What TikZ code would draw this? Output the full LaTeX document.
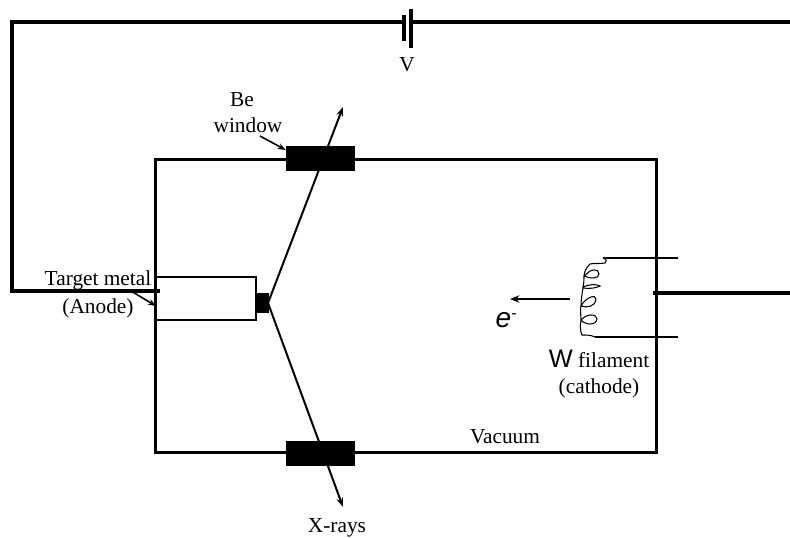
\documentclass[tikz,border=0pt]{standalone}
\usepackage{fontspec}
\setmainfont{Liberation Serif}
\newfontfamily\labelsans{Liberation Sans}
\usetikzlibrary{arrows.meta, positioning}

\begin{document}
\begin{tikzpicture}[
  x=0.75pt, y=-0.75pt,
  wall/.style={draw, rectangle, line width=2.25pt, minimum width=375.75pt, minimum height=219.75pt, inner sep=0pt},
  window/.style={fill=black, rectangle, minimum width=51.75pt, minimum height=18.75pt, inner sep=0pt},
  plate/.style={fill=black, rectangle, minimum width=3pt, inner sep=0pt},
  lbl/.style={font=\fontsize{16}{18}\selectfont, inner sep=0pt, align=center},
  wire/.style={line width=3pt},
  ray/.style={line width=1.5pt, -{Stealth[length=7pt, width=5pt]}},
  pointer/.style={line width=1.2pt, -{Stealth[length=6pt, width=4.5pt]}}
]
\useasboundingbox (0,0) rectangle (790,538);

% chamber
\node[wall] (chamber) at (406.3,306) {};

% anode
\node[draw, rectangle, line width=1.5pt, minimum width=75pt, minimum height=32.25pt, inner sep=0pt] (anode) at (206,298.5) {};
\node[fill=black, rectangle, minimum width=9pt, minimum height=15pt, inner sep=0pt, right=0pt of anode.east, yshift=-3.75pt] (target) {};
\coordinate (apex) at (268,303);

% x-ray paths
\coordinate (raytop) at (343,107);
\coordinate (raybot) at (343,507);
\draw[ray] (apex) -- (raytop);
\draw[ray] (apex) -- (raybot);
\node[window] (topwin) at (320.5,158.5) {};
\node[window] (botwin) at (320.5,454) {};

% battery and circuit
\node[plate, minimum height=19.5pt] (plateneg) at (404,28) {};
\node[plate, minimum height=29.25pt] (platepos) at (411,28.5) {};
\coordinate (corner) at (12,22);
\coordinate (wireleft) at (404,22);
\coordinate (wireright) at (411,22);
\coordinate (rightend) at (790,22);
\coordinate (anodein) at (160,291);
\coordinate (cathodein) at (653,293);
\coordinate (cathodeout) at (790,293);
\draw[wire, line join=miter] (wireleft) -- (corner) -- (12,291) -- (anodein);
\draw[wire] (wireright) -- (rightend);
\draw[wire] (cathodein) -- (cathodeout);

% filament
\draw[line width=0.8pt] (678,258) -- (603,258);
\draw[line width=0.8pt] (678,337) -- (595,337);
\draw[line width=0.8pt]
  (603,258) .. controls (607,259) and (607,262) .. (605,263)
  .. controls (600,264) and (594,263) .. (590,264)
  .. controls (586,268) and (584,272) .. (584,277)
  .. controls (590,268) and (599,268) .. (599,274)
  .. controls (599,279) and (590,279) .. (584,276)
  .. controls (584,279) and (584,283) .. (583,287)
  .. controls (590,284) and (596,284) .. (600,286)
  .. controls (596,288) and (590,289) .. (583,288)
  .. controls (582,294) and (581,300) .. (581,306)
  .. controls (586,297) and (596,294) .. (596,299)
  .. controls (595,307) and (587,308) .. (581,306)
  .. controls (580,309) and (581,315) .. (581,320)
  .. controls (587,313) and (597,314) .. (597,319)
  .. controls (596,326) and (585,325) .. (581,320)
  .. controls (580,325) and (580,331) .. (582,335)
  .. controls (586,335) and (591,335) .. (595,337);

% electron arrow and labels
\coordinate (etail) at (570,299);
\coordinate (ehead) at (510,299);
\draw[line width=1.5pt, -{Stealth[length=7pt, width=5.5pt]}] (etail) -- (ehead);

\node[lbl] (vlabel) at (407,65) {V};
\node[lbl] (belabel) at (242,100) {Be};
\node[lbl] (winlabel) at (248,125) {window};
\node[lbl] (metallabel) at (98,280) {Target metal};
\node[lbl] (anodelabel) at (98,308) {(Anode)};
\node[lbl] (rayslabel) at (337,528) {X-rays};
\node[lbl] (vaclabel) at (505,437) {Vacuum};
\node[lbl, anchor=base] (elabel) at (506,328) {\labelsans\itshape\fontsize{21}{22}\selectfont e\raisebox{7pt}{\fontsize{12}{13}\selectfont -}};
\node[lbl, anchor=base] (wlabel) at (599,368) {{\labelsans\fontsize{19}{20}\selectfont W} filament};
\node[lbl] (cathlabel) at (599,388) {(cathode)};

\coordinate (metaltail) at (131,291);
\coordinate (metalhead) at (156,306);
\coordinate (wintail) at (260,136);
\draw[pointer] (metaltail) -- (metalhead);
\draw[pointer] (wintail) -- (topwin.west |- 0,150);
\end{tikzpicture}
\end{document}
